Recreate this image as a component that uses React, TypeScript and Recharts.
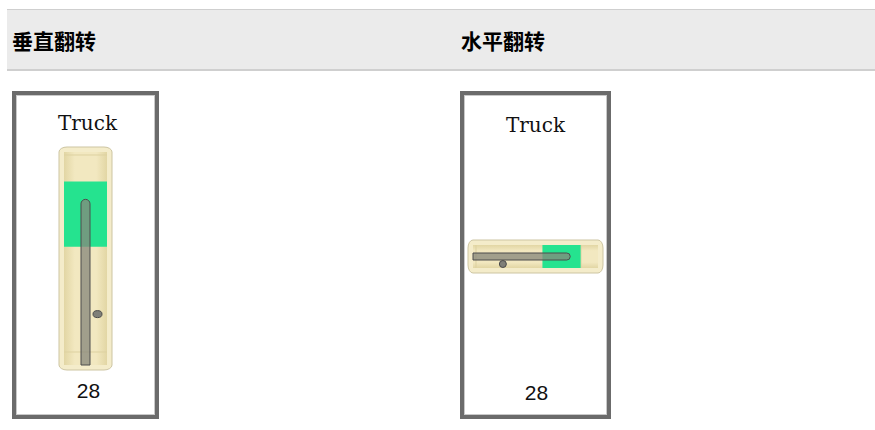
import React from "react"
import { ComposedChart, Bar, XAxis, YAxis, ReferenceArea, ReferenceDot } from "recharts"

// gauge data
const gaugeCategories = ["Truck"]
const gaugeValues = [28]
const gaugeDomain = [0, 36]
const bandRange = [20, 31]
const markerValues = [8.6]
const columnTitles = ["垂直翻转", "水平翻转"]

const data = gaugeCategories.map((name, i) => ({ name, value: gaugeValues[i] }))

const GREEN = "#25e38f"
const NEEDLE = "rgb(135,135,124)"

const Tube = (props: any) => {
  const { x, y, width, height, vertical } = props
  const pad = 5
  const id = vertical ? "tubeV" : "tubeH"
  return (
    <g>
      <defs>
        <linearGradient id={id} x1="0" y1="0" x2={vertical ? "1" : "0"} y2={vertical ? "0" : "1"}>
          <stop offset="0%" stopColor="#e2d6a4" />
          <stop offset="25%" stopColor="#f2e8c0" />
          <stop offset="75%" stopColor="#f2e8c0" />
          <stop offset="100%" stopColor="#e2d6a4" />
        </linearGradient>
      </defs>
      <rect x={x - pad} y={y - pad} width={width + pad * 2} height={height + pad * 2}
        rx={vertical ? 8 : 5} ry={vertical ? 5 : 8} fill="#f4ecca" stroke="#cdc5a2" strokeWidth={1} />
      <rect x={x} y={y} width={width} height={height} fill={`url(#${id})`} />
      {vertical ? (
        <>
          <line x1={x} x2={x + width} y1={y + 3} y2={y + 3} stroke="#ddd1a0" />
          <line x1={x} x2={x + width} y1={y + height - 13} y2={y + height - 13} stroke="#ddd1a0" />
        </>
      ) : (
        <>
          <line y1={y} y2={y + height} x1={x + 3} x2={x + 3} stroke="#ddd1a0" />
          <line y1={y} y2={y + height} x1={x + width - 17} x2={x + width - 17} stroke="#ddd1a0" />
        </>
      )}
    </g>
  )
}

const Marker = (props: any) => {
  const { cx, cy, vertical } = props
  return (
    <ellipse cx={vertical ? cx + 12 : cx} cy={vertical ? cy : cy + 7.5} rx={vertical ? 4.5 : 3.5} ry={3.5}
      fill="#7f7f78" stroke="#4a4a4a" strokeWidth={1} />
  )
}

function VerticalGauge() {
  return (
    <ComposedChart width={60} height={233} data={data} margin={{ top: 10, right: 9, bottom: 10, left: 8 }}>
      <XAxis dataKey="name" hide />
      <YAxis type="number" domain={gaugeDomain} hide />
      <ReferenceArea y1={gaugeDomain[0]} y2={gaugeDomain[1]} shape={(p: any) => <Tube {...p} vertical />} ifOverflow="visible" />
      <ReferenceArea y1={bandRange[0]} y2={bandRange[1]} fill={GREEN} fillOpacity={1} />
      <Bar dataKey="value" barSize={9} fill={NEEDLE} fillOpacity={0.76} stroke="#4d4d4d" strokeWidth={1}
        radius={[4.5, 4.5, 0, 0]} isAnimationActive={false} />
      <ReferenceDot x={gaugeCategories[0]} y={markerValues[0]} shape={(p: any) => <Marker {...p} vertical />} ifOverflow="visible" />
    </ComposedChart>
  )
}

function HorizontalGauge() {
  return (
    <ComposedChart layout="vertical" width={141} height={43} data={data} margin={{ top: 10, right: 8, bottom: 10, left: 8 }}>
      <XAxis type="number" domain={gaugeDomain} hide />
      <YAxis type="category" dataKey="name" hide />
      <ReferenceArea x1={gaugeDomain[0]} x2={gaugeDomain[1]} shape={(p: any) => <Tube {...p} />} ifOverflow="visible" />
      <ReferenceArea x1={bandRange[0]} x2={bandRange[1]} fill={GREEN} fillOpacity={1} />
      <Bar dataKey="value" barSize={7} fill={NEEDLE} fillOpacity={0.76} stroke="#4d4d4d" strokeWidth={1}
        radius={[0, 3.5, 3.5, 0]} isAnimationActive={false} />
      <ReferenceDot x={markerValues[0]} y={gaugeCategories[0]} shape={(p: any) => <Marker {...p} />} ifOverflow="visible" />
    </ComposedChart>
  )
}

const frameStyle: React.CSSProperties = {
  position: "absolute",
  top: 91,
  height: 328,
  boxSizing: "border-box",
  border: "4px solid #6b6b6b",
  boxShadow: "inset 0 0 0 1px #c9c9c9",
  background: "#fff",
}

const titleStyle: React.CSSProperties = {
  position: "absolute",
  width: "100%",
  textAlign: "center",
  fontFamily: "'DejaVu Serif', serif",
  fontSize: 20,
  lineHeight: "24px",
  color: "#111",
}

const valueStyle: React.CSSProperties = {
  position: "absolute",
  width: "100%",
  textAlign: "center",
  fontFamily: "'Liberation Sans', Arial, sans-serif",
  fontSize: 21,
  lineHeight: "24px",
  color: "#111",
}

export default function App() {
  return (
    <div style={{ position: "fixed", left: 0, top: 0, width: 875, height: 430, background: "#fff", overflow: "hidden" }}>
      <div style={{
        position: "absolute", left: 7, top: 9, width: 868, height: 62, boxSizing: "border-box",
        background: "#ebebeb", borderTop: "1px solid #cfcfcf", borderBottom: "2px solid #cfcfcf",
      }} />
      {columnTitles.map((t, i) => (
        <div key={t} style={{
          position: "absolute", left: i === 0 ? 12 : 461, top: 27, lineHeight: "26px",
          fontFamily: "'Noto Sans CJK SC', sans-serif", fontWeight: 700, fontSize: 21, color: "#000",
        }}>{t}</div>
      ))}

      <div style={{ ...frameStyle, left: 12, width: 147 }}>
        <div style={{ ...titleStyle, top: 16, left: 2 }}>{gaugeCategories[0]}</div>
        <div style={{ position: "absolute", left: 40, top: 47 }}>
          <VerticalGauge />
        </div>
        <div style={{ ...valueStyle, top: 284, left: 3 }}>{gaugeValues[0]}</div>
      </div>

      <div style={{ ...frameStyle, left: 460, width: 151 }}>
        <div style={{ ...titleStyle, top: 18 }}>{gaugeCategories[0]}</div>
        <div style={{ position: "absolute", left: 1, top: 140 }}>
          <HorizontalGauge />
        </div>
        <div style={{ ...valueStyle, top: 286, left: 1 }}>{gaugeValues[0]}</div>
      </div>
    </div>
  )
}
